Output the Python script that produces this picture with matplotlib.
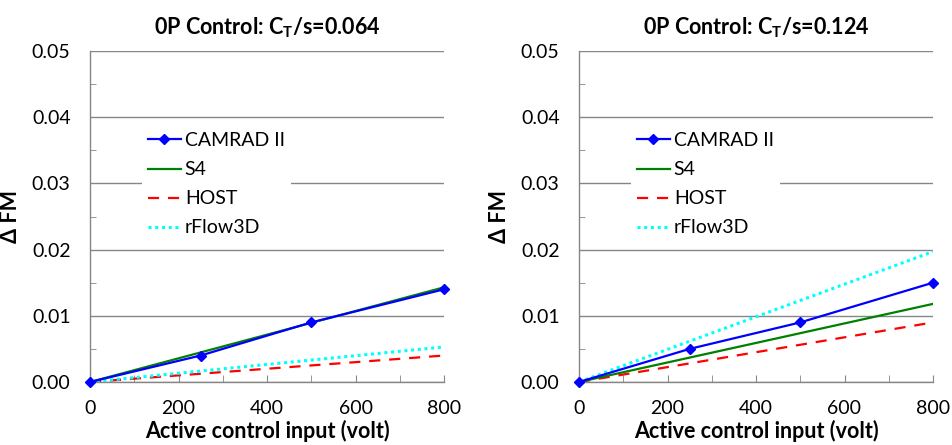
import matplotlib
matplotlib.use("Agg")
import matplotlib.pyplot as plt
from matplotlib.ticker import MultipleLocator, FormatStrFormatter

plt.rcParams['font.family'] = ['Lato', 'DejaVu Sans']
plt.rcParams['mathtext.default'] = 'regular'

voltage = [0, 250, 500, 800]
line_x = [0, 800]

titles = ["0P Control: C$_T$/s=0.064", "0P Control: C$_T$/s=0.124"]

camrad = [[0.0, 0.004, 0.009, 0.014], [0.0, 0.005, 0.009, 0.015]]
s4 = [[0.0, 0.0143], [0.0, 0.0118]]
host = [[0.0, 0.0040], [0.0, 0.0090]]
rflow = [[0.0, 0.0053], [0.0, 0.0197]]

fig = plt.figure(figsize=(9.52, 4.45), dpi=100)
lefts = [90 / 952, 579 / 952]
W, H = 354 / 952, 331 / 445
B = 1 - 382 / 445
grid_c = '#868686'

for i in range(2):
    ax = fig.add_axes([lefts[i], B, W, H])
    ax.set_xlim(0, 800)
    ax.set_ylim(0, 0.05)
    ax.yaxis.set_major_locator(MultipleLocator(0.01))
    ax.yaxis.set_minor_locator(MultipleLocator(0.005))
    ax.xaxis.set_major_locator(MultipleLocator(200))
    ax.xaxis.set_minor_locator(MultipleLocator(100))
    ax.yaxis.set_major_formatter(FormatStrFormatter('%.2f'))
    ax.grid(axis='y', which='major', color=grid_c, lw=1.0)
    ax.set_axisbelow(True)
    for s in ['top', 'right']:
        ax.spines[s].set_visible(False)
    for s in ['left', 'bottom']:
        ax.spines[s].set_color(grid_c)
        ax.spines[s].set_linewidth(1.0)
    ax.tick_params(axis='x', which='both', direction='in', length=5, color=grid_c,
                   labelsize=14, pad=13)
    ax.tick_params(axis='y', which='major', length=0, labelsize=14, pad=14)
    ax.tick_params(axis='y', which='minor', direction='in', length=4, color=grid_c)

    ax.plot(voltage, camrad[i], color='#0000FF', lw=1.6, marker='D', ms=5,
            label='CAMRAD II', clip_on=False, zorder=5)
    ax.plot(line_x, s4[i], color='#008000', lw=1.6, label='S4', zorder=4)
    ax.plot(line_x, host[i], color='#FF0000', lw=1.6, ls=(0, (5, 4)), label='HOST', zorder=3)
    ax.plot(line_x, rflow[i], color='#00FFFF', lw=2.2, ls=(0, (1, 1.2)), label='rFlow3D', zorder=3)

    ax.set_title(titles[i], fontsize=15.5, fontweight='bold', pad=12)
    ax.set_xlabel('Active control input (volt)', fontsize=15.5, fontweight='bold', labelpad=2)
    ax.set_ylabel('Δ FM', fontsize=15.5, fontweight='bold', labelpad=8)

    leg = ax.legend(loc='upper left', bbox_to_anchor=(0.147, 0.772), borderaxespad=0,
                    frameon=True, fancybox=False, edgecolor='none', facecolor='white',
                    framealpha=1, fontsize=14, handlelength=1.7, handletextpad=0.2,
                    labelspacing=0.62, borderpad=0.3)

fig.savefig('out.png', dpi=100)
